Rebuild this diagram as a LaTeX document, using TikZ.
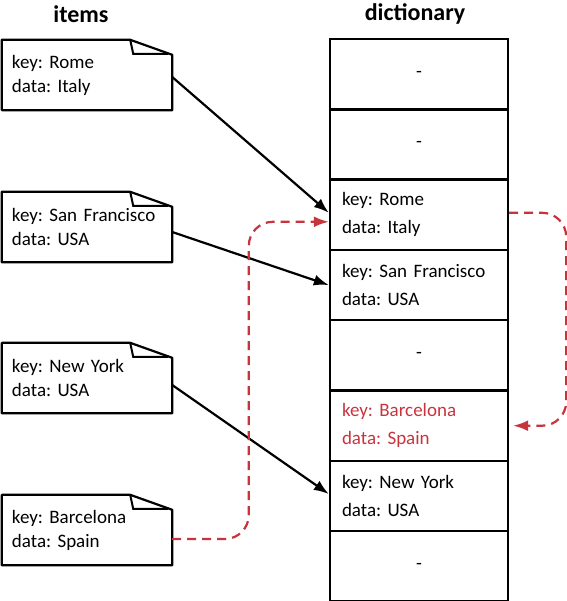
\documentclass[tikz,border=0pt]{standalone}
\usepackage{fontspec}
\setmainfont{Carlito}
\frenchspacing
\usetikzlibrary{arrows.meta,calc}
\definecolor{dictred}{RGB}{200,52,62}
\tikzset{>={Latex[length=15pt,width=11pt]}}
\tikzset{
  item/.style = {minimum width=170pt, minimum height=70pt, text width=150pt, align=left, inner sep=0pt, font=\fontsize{19}{24}\selectfont},
  slot/.style = {draw, line width=2.4pt, minimum width=178pt, minimum height=70.3pt, inner sep=0pt, font=\fontsize{19}{28}\selectfont},
  entry/.style = {text width=154pt, align=left},
  title/.style = {font=\bfseries\fontsize{24}{28}\selectfont},
  link/.style = {->, line width=2.2pt},
  moved/.style = {->, dictred, dash pattern=on 9pt off 6pt, line width=2.2pt, rounded corners=24pt}
}

\begin{document}
\begin{tikzpicture}[x=1pt,y=-1pt]
  \useasboundingbox (0,0) rectangle (566,601);
  \node[title] (itemsT) at (81,14) {items};
  \node[title] (dictT) at (415,14) {dictionary};
  % items
  \node[item] (rome) at (87,75) {key: Rome\\data: Italy};
  \node[item] (sf) at (87,227) {key: San Francisco\\data: USA};
  \node[item] (ny) at (87,378) {key: New York\\data: USA};
  \node[item] (bcn) at (87,530) {key: Barcelona\\data: Spain};
  \foreach \n in {rome,sf,ny,bcn} {
    \draw[line width=2.2pt, line join=round] (\n.south west) -- (\n.north west) -- ([xshift=-42pt]\n.north east) -- ([yshift=-15pt]\n.north east) -- (\n.south east) -- cycle;
    \draw[line width=2pt] ([xshift=-42pt]\n.north east) -- ([xshift=-39pt,yshift=-14pt]\n.north east) -- ([xshift=-4pt,yshift=-14pt]\n.north east);
  }
  % dictionary
  \node[slot] (d0) at (419,74.2) {-};
  \node[slot] (d1) at (419,144.5) {-};
  \node[slot,entry] (d2) at (419,214.8) {key: Rome\\data: Italy};
  \node[slot,entry] (d3) at (419,285.1) {key: San Francisco\\data: USA};
  \node[slot] (d4) at (419,355.4) {-};
  \node[slot,entry,text=dictred] (d5) at (419,425.7) {key: Barcelona\\data: Spain};
  \node[slot,entry] (d6) at (419,496) {key: New York\\data: USA};
  \node[slot] (d7) at (419,566.3) {-};
  % hashing
  \draw[link] ([yshift=-2pt]rome.east) -- ([yshift=2pt]d2.west);
  \draw[link] ([yshift=-5pt]sf.east) -- (d3.west);
  \draw[link] ([yshift=-7pt]ny.east) -- ([yshift=2pt]d6.west);
  \draw[moved] ([yshift=-9pt]bcn.east) -| ($(d2.west)+(-80,7)$) -- ($(d2.west)+(0,7)$);
  \draw[moved] ([yshift=2pt]d2.east) -- ++(57,0) |- ([xshift=4pt]d5.east);
\end{tikzpicture}
\end{document}
